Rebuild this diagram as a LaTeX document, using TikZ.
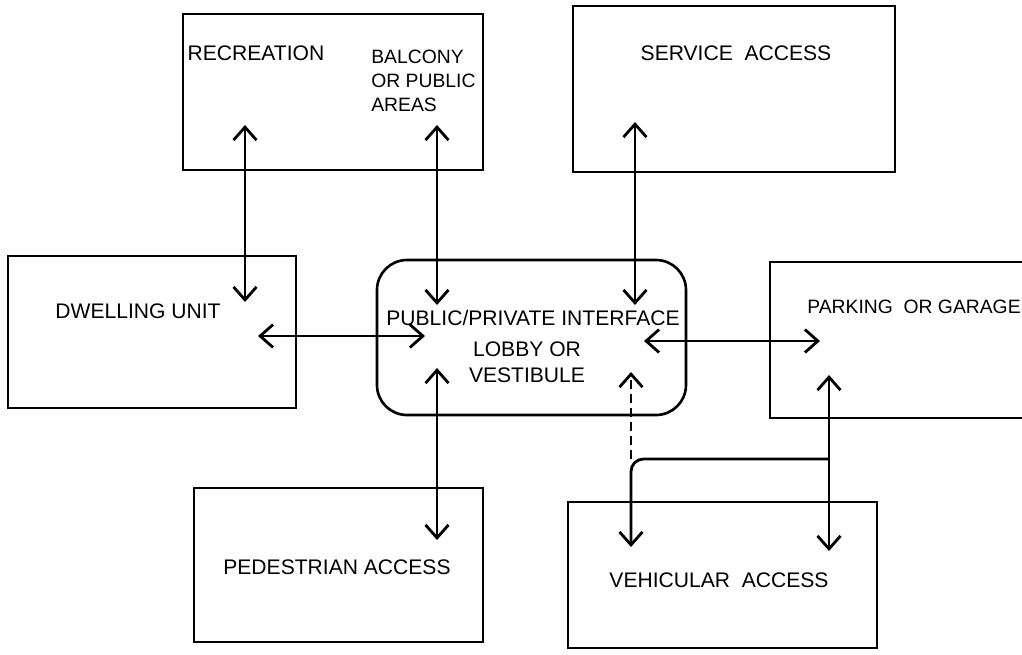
\documentclass[tikz,border=0pt]{standalone}
\usepackage{fontspec}
\setmainfont{Liberation Sans}
\usetikzlibrary{arrows.meta,fit}

\begin{document}
\begin{tikzpicture}[x=0.02cm,y=-0.02cm]
\tikzset{
  box/.style={draw,line width=1.5pt,inner sep=0pt},
  lbl/.style={font=\fontsize{12}{14.5}\selectfont,inner sep=0pt,align=center},
  link/.style={line width=1.6pt,{Straight Barb[length=2.6mm,width=4.6mm]}-{Straight Barb[length=2.6mm,width=4.6mm]}},
  onehead/.style={line width=1.6pt,-{Straight Barb[length=2.6mm,width=4.6mm]}}
}
\useasboundingbox (0,0) rectangle (1022,654);

% boxes
\node[box,fit={(183,14) (483,170)}] (rec) {};
\node[box,fit={(573,6) (895,172)}] (serv) {};
\node[box,fit={(8,256) (296,408)}] (dwell) {};
\node[box,rounded corners=0.6cm,fit={(377,260) (686,415)}] (lobby) {};
\node[box,fit={(770,262) (1045,418)}] (park) {};
\node[box,fit={(194,488) (483,642)}] (ped) {};
\node[box,fit={(568,502) (877,648)}] (veh) {};

% texts
\node[lbl] (recT) at (256,53) {RECREATION};
\node[lbl,anchor=west,align=left,font=\fontsize{11}{13.5}\selectfont] (balT) at (371,81) {BALCONY\\OR PUBLIC\\AREAS};
\node[lbl] (servT) at (736,53) {SERVICE\ \ ACCESS};
\node[lbl] (dwellT) at (138,311) {DWELLING UNIT};
\node[lbl] (lobbyT) at (533,318) {PUBLIC/PRIVATE INTERFACE};
\node[lbl] (lobbyS) at (527,362) {LOBBY OR\\VESTIBULE};
\node[lbl,font=\fontsize{11}{13}\selectfont] (parkT) at (914,307) {PARKING\ \ OR GARAGE};
\node[lbl] (pedT) at (337,567) {PEDESTRIAN ACCESS};
\node[lbl] (vehT) at (719,580) {VEHICULAR\ \ ACCESS};

% arrow ends
\coordinate (recA) at (245,125);
\coordinate (dwellA) at (245,302);
\coordinate (balA) at (437,125);
\coordinate (lobbyA) at (437,305);
\coordinate (servA) at (635,122);
\coordinate (lobbyB) at (635,305);
\coordinate (dwellB) at (258,336);
\coordinate (lobbyC) at (425,336);
\coordinate (lobbyD) at (644,341);
\coordinate (parkA) at (820,341);
\coordinate (lobbyE) at (437,368);
\coordinate (pedA) at (437,540);
\coordinate (lobbyF) at (631,372);
\coordinate (parkB) at (829,375);
\coordinate (vehB) at (829,551);
\coordinate (split) at (829,459);
\coordinate (bend) at (631,459);
\coordinate (vehA) at (631,547);

% two-way links
\draw[link] (recA) -- (dwellA);
\draw[link] (balA) -- (lobbyA);
\draw[link] (servA) -- (lobbyB);
\draw[link] (dwellB) -- (lobbyC);
\draw[link] (lobbyD) -- (parkA);
\draw[link] (lobbyE) -- (pedA);
\draw[link] (parkB) -- (vehB);

% vehicular branch
\draw[onehead,rounded corners=0.25cm] (split) -- (bend) -- (vehA);
\draw[onehead,dashed,dash pattern=on 5pt off 3pt] (bend) -- (lobbyF);
\end{tikzpicture}
\end{document}
